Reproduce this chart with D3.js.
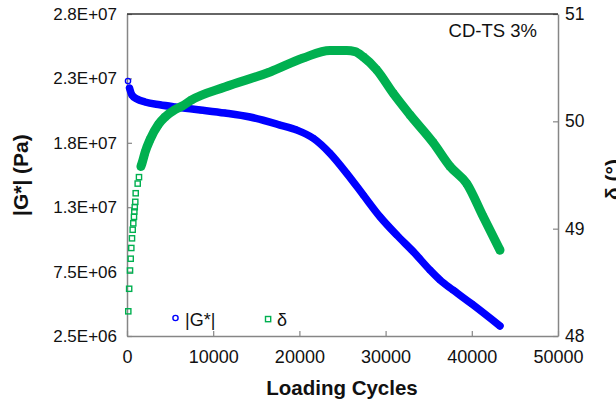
<!DOCTYPE html>
<html>
<head>
<meta charset="utf-8">
<script src="https://cdn.jsdelivr.net/npm/d3@7"></script>
<style>
  body { margin: 0; background: #fff; }
  svg { font-family: "Liberation Sans", Arial, sans-serif; }
</style>
</head>
<body>
<svg id="chart" width="616" height="401"></svg>
<script>
// |G*| series (Pa) vs loading cycles
const gCycles = [116, 290, 580, 1160, 2090, 3800, 5570, 8500, 11370, 14270, 17750, 19690, 21610, 23550, 25490, 27410, 29350, 31290, 33210, 35150, 36310, 37820, 40020, 43270];
const gValues = [2.23e7, 2.175e7, 2.12e7, 2.09e7, 2.067e7, 2.045e7, 2.028e7, 2.005e7, 1.981e7, 1.95e7, 1.888e7, 1.849e7, 1.785e7, 1.668e7, 1.513e7, 1.345e7, 1.176e7, 1.034e7, 9.05e6, 7.62e6, 6.85e6, 6.07e6, 4.98e6, 3.28e6];

// phase angle series (deg)
const dCycles = [150, 250, 350, 430, 500, 580, 660, 730, 810, 850, 900, 960, 1010, 1240, 1390, 1620, 1780, 2090, 2670, 3630, 4410, 5570, 6350, 7510, 11370, 16590, 20450, 23550, 25490, 26450, 27410, 28970, 30890, 32830, 35530, 37470, 39410, 41330, 43270];
const dValues = [48.23, 48.44, 48.61, 48.72, 48.82, 48.91, 48.99, 49.05, 49.11, 49.16, 49.20, 49.25, 49.33, 49.42, 49.48, 49.58, 49.62, 49.71, 49.83, 49.97, 50.04, 50.11, 50.14, 50.20, 50.32, 50.46, 50.59, 50.66, 50.66, 50.65, 50.60, 50.48, 50.26, 50.06, 49.80, 49.58, 49.42, 49.11, 48.80];

const xTicks = [0, 10000, 20000, 30000, 40000, 50000];
const gTicks = [2.5e6, 7.5e6, 1.25e7, 1.75e7, 2.25e7, 2.75e7];
const gTickLabels = ["2.5E+06", "7.5E+06", "1.3E+07", "1.8E+07", "2.3E+07", "2.8E+07"];
const dTicks = [48, 49, 50, 51];

const plotLeft = 127, plotRight = 558, plotTop = 14, plotBottom = 336;
const blue = "#0000ff", green = "#00b050", axisGrey = "#868686";

const svg = d3.select("#chart");

const x = d3.scaleLinear().domain([0, 50000]).range([plotLeft, plotRight]);
const yG = d3.scaleLinear().domain([2.5e6, 2.75e7]).range([plotBottom, plotTop]);
const yD = d3.scaleLinear().domain([48, 51]).range([plotBottom, plotTop]);

const gData = gCycles.map((c, i) => ({ c: c, v: gValues[i] }));
const dData = dCycles.map((c, i) => ({ c: c, v: dValues[i] }));

// axes
const xAxis = svg.append("g")
  .attr("transform", `translate(0,${plotBottom})`)
  .call(d3.axisBottom(x).tickValues(xTicks).tickSizeInner(-5).tickSizeOuter(0).tickPadding(14).tickFormat(d3.format("d")));

const yAxisL = svg.append("g")
  .attr("transform", `translate(${plotLeft},0)`)
  .call(d3.axisLeft(yG).tickValues(gTicks).tickSizeInner(-5).tickSizeOuter(0).tickPadding(10)
    .tickFormat((d, i) => gTickLabels[i]));

const yAxisR = svg.append("g")
  .attr("transform", `translate(${plotRight},0)`)
  .call(d3.axisRight(yD).tickValues(dTicks).tickSizeInner(-5).tickSizeOuter(0).tickPadding(7).tickFormat(d3.format("d")));

[xAxis, yAxisL, yAxisR].forEach(g => {
  g.select(".domain").attr("stroke", axisGrey).attr("stroke-width", 1.5);
  g.selectAll(".tick line").attr("stroke", axisGrey).attr("stroke-width", 1.2);
  g.selectAll("text").attr("fill", "#111").attr("font-family", "Liberation Sans, Arial, sans-serif");
});
xAxis.selectAll("text").attr("font-size", 18);
yAxisL.selectAll("text").attr("font-size", 17);
yAxisR.selectAll("text").attr("font-size", 17.5);

// top border of plot area
svg.append("line")
  .attr("x1", plotLeft).attr("x2", plotRight)
  .attr("y1", plotTop).attr("y2", plotTop)
  .attr("stroke", "#333").attr("stroke-width", 1.5);

// |G*| band
const lineG = d3.line().x(d => x(d.c)).y(d => yG(d.v)).curve(d3.curveMonotoneX);
svg.append("path")
  .datum(gData.slice(1))
  .attr("d", lineG)
  .attr("fill", "none")
  .attr("stroke", blue)
  .attr("stroke-width", 7.5)
  .attr("stroke-linecap", "round");

svg.selectAll(".gpt")
  .data(gData)
  .enter()
  .append("circle")
  .attr("class", "gpt")
  .attr("cx", d => x(d.c))
  .attr("cy", d => yG(d.v))
  .attr("r", 2.6)
  .attr("fill", "none")
  .attr("stroke", blue)
  .attr("stroke-width", 1.4);

// delta band
const lineD = d3.line().x(d => x(d.c)).y(d => yD(d.v)).curve(d3.curveMonotoneX);
svg.append("path")
  .datum(dData.filter(d => d.c >= 1620))
  .attr("d", lineD)
  .attr("fill", "none")
  .attr("stroke", green)
  .attr("stroke-width", 9)
  .attr("stroke-linecap", "round");

svg.selectAll(".dpt")
  .data(dData)
  .enter()
  .append("rect")
  .attr("class", "dpt")
  .attr("x", d => x(d.c) - 2.6)
  .attr("y", d => yD(d.v) - 2.6)
  .attr("width", 5.2)
  .attr("height", 5.2)
  .attr("fill", "none")
  .attr("stroke", green)
  .attr("stroke-width", 1.4);

// legend
svg.append("circle")
  .attr("cx", 175.5).attr("cy", 318)
  .attr("r", 2.6)
  .attr("fill", "none").attr("stroke", blue).attr("stroke-width", 1.4);
svg.append("text")
  .attr("x", 185).attr("y", 325.5)
  .attr("font-size", 18).attr("fill", "#111")
  .text("|G*|");
svg.append("rect")
  .attr("x", 265.5).attr("y", 316.5)
  .attr("width", 5.2).attr("height", 5.2)
  .attr("fill", "none").attr("stroke", green).attr("stroke-width", 1.4);
svg.append("text")
  .attr("x", 277).attr("y", 325.5)
  .attr("font-size", 18).attr("fill", "#111")
  .text("δ");

// annotation
svg.append("text")
  .attr("x", 537).attr("y", 37)
  .attr("text-anchor", "end")
  .attr("font-size", 18.5).attr("fill", "#111")
  .text("CD-TS 3%");

// axis titles
svg.append("text")
  .attr("x", (plotLeft + plotRight) / 2 - 0.5).attr("y", 395)
  .attr("text-anchor", "middle")
  .attr("font-size", 20.5).attr("font-weight", "bold").attr("fill", "#111")
  .text("Loading Cycles");

svg.append("text")
  .attr("transform", "translate(28,216) rotate(-90)")
  .attr("font-size", 21).attr("font-weight", "bold").attr("fill", "#111")
  .text("|G*| (Pa)");

svg.append("text")
  .attr("transform", "translate(620,200) rotate(-90)")
  .attr("font-size", 21).attr("font-weight", "bold").attr("fill", "#111")
  .text("δ (°)");
</script>
</body>
</html>
